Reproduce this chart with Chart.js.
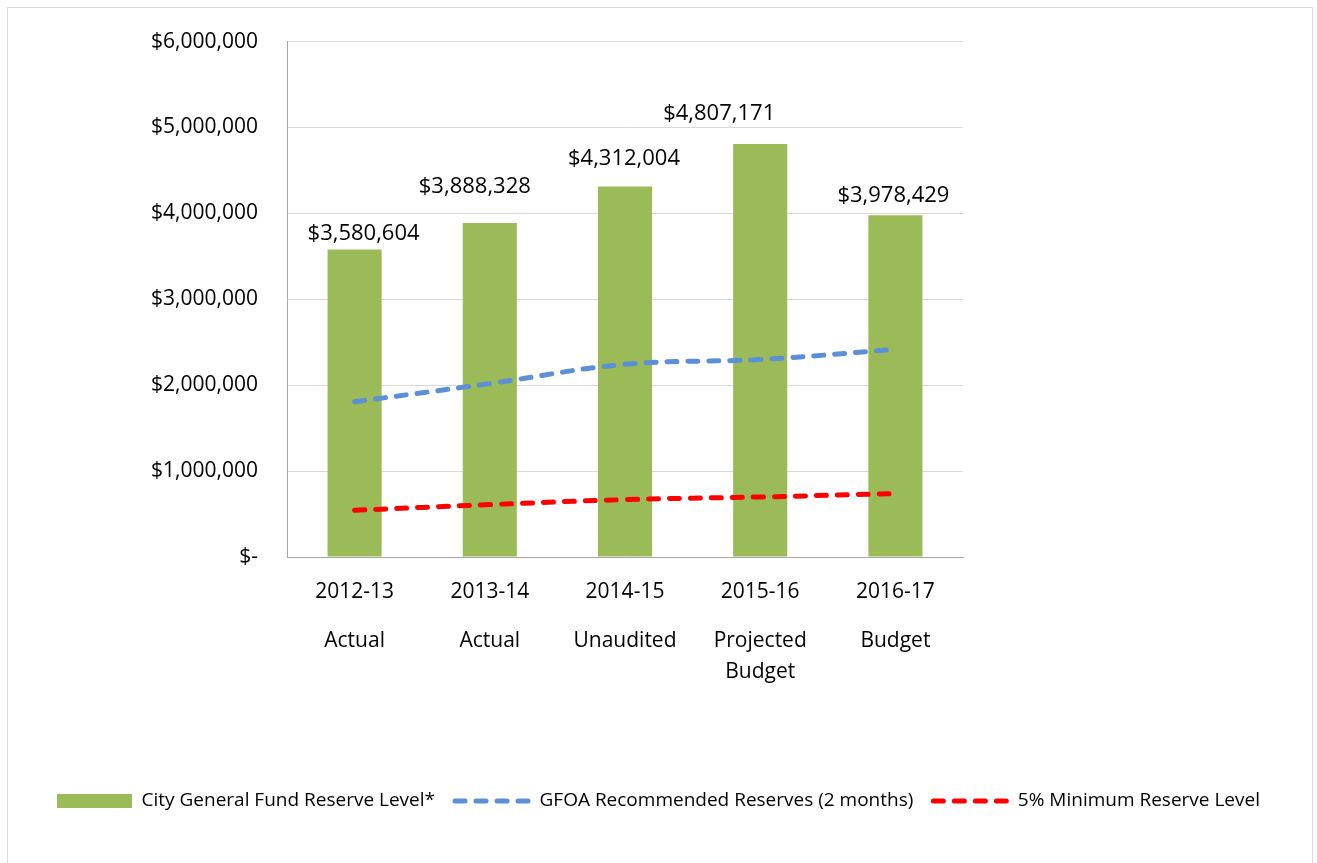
<!DOCTYPE html>
<html>
<head>
<meta charset="utf-8">
<script src="https://cdn.jsdelivr.net/npm/chart.js@4.4.0/dist/chart.umd.min.js"></script>
<style>
  html, body { margin: 0; padding: 0; background: #ffffff; }
  #wrap { width: 1317px; height: 863px; }
</style>
</head>
<body>
<div id="wrap"><canvas id="c" width="1317" height="863"></canvas></div>
<script>
// ---- data ----
const yearLabels = ["2012-13", "2013-14", "2014-15", "2015-16", "2016-17"];
const statusLabels = ["Actual", "Actual", "Unaudited", ["Projected", "Budget"], "Budget"];
const reserveLevel = [3580604, 3888328, 4312004, 4807171, 3978429];
const gfoaRecommended = [1807000, 2019000, 2243000, 2300000, 2417000];
const minimumReserve = [544000, 610000, 668000, 699000, 738000];
const seriesNames = ["City General Fund Reserve Level*", "GFOA Recommended Reserves (2 months)", "5% Minimum Reserve Level"];
const yTicks = [0, 1000000, 2000000, 3000000, 4000000, 5000000, 6000000];

// ---- styling (label placement offsets from the bar top, px) ----
const labelDx = [9, -15, -1, -41, -2];
const labelDy = [16, 36, 28, 30, 20];

const FONT = "'Open Sans', 'Noto Sans', sans-serif";
const fmt = v => v === 0 ? "$-" : "$" + v.toLocaleString("en-US");

const frame = {
  id: "frame",
  beforeDraw(chart) {
    const ctx = chart.ctx;
    ctx.save();
    ctx.fillStyle = "#ffffff";
    ctx.fillRect(0, 0, chart.width, chart.height);
    ctx.strokeStyle = "#d9d9d9";
    ctx.lineWidth = 1;
    ctx.strokeRect(7.5, 7.5, 1305, 880);
    ctx.restore();
  }
};

const barLabels = {
  id: "barLabels",
  afterDatasetsDraw(chart) {
    const meta = chart.getDatasetMeta(0);
    const ctx = chart.ctx;
    ctx.save();
    ctx.font = "22px " + FONT;
    ctx.fillStyle = "#000000";
    ctx.textAlign = "center";
    ctx.textBaseline = "middle";
    meta.data.forEach((el, i) => {
      ctx.fillText(fmt(reserveLevel[i]), el.x + labelDx[i], el.y - labelDy[i]);
    });
    ctx.restore();
  }
};

new Chart(document.getElementById("c"), {
  type: "bar",
  data: {
    labels: yearLabels,
    datasets: [
      {
        label: seriesNames[0],
        data: reserveLevel,
        backgroundColor: "#9bbb59",
        borderWidth: 0,
        categoryPercentage: 1.0,
        barPercentage: 0.4,
        order: 2,
        pointStyle: "rect",
        xAxisID: "x", yAxisID: "y"
      },
      {
        type: "line",
        label: seriesNames[1],
        data: gfoaRecommended,
        borderColor: "#5b8fd6",
        backgroundColor: "#5b8fd6",
        borderWidth: 5,
        borderDash: [10, 11],
        borderCapStyle: "round",
        tension: 0.4,
        pointRadius: 0,
        pointHoverRadius: 0,
        pointStyle: "line",
        fill: false,
        order: 1,
        xAxisID: "x", yAxisID: "y"
      },
      {
        type: "line",
        label: seriesNames[2],
        data: minimumReserve,
        borderColor: "#ff0000",
        backgroundColor: "#ff0000",
        borderWidth: 5,
        borderDash: [10, 11],
        borderCapStyle: "round",
        tension: 0.4,
        pointRadius: 0,
        pointHoverRadius: 0,
        pointStyle: "line",
        fill: false,
        order: 1,
        xAxisID: "x", yAxisID: "y"
      }
    ]
  },
  options: {
    responsive: false,
    animation: false,
    devicePixelRatio: 1,
    layout: { padding: { left: 8, right: 8, top: 39, bottom: 42.5 } },
    plugins: {
      tooltip: { enabled: false },
      legend: {
        position: "bottom",
        labels: {
          usePointStyle: true,
          pointStyleWidth: 75,
          boxWidth: 75,
          boxHeight: 14,
          padding: 20,
          color: "#000000",
          font: { family: FONT, size: 19 },
          sort: (a, b) => a.datasetIndex - b.datasetIndex,
          generateLabels(chart) {
            const items = Chart.defaults.plugins.legend.labels.generateLabels(chart);
            items.forEach(it => {
              const ds = chart.data.datasets[it.datasetIndex];
              if (ds.type === "line") {
                it.lineDash = ds.borderDash;
                it.lineCap = "round";
                it.lineWidth = ds.borderWidth;
                it.strokeStyle = ds.borderColor;
                it.fillStyle = ds.borderColor;
              } else {
                it.lineWidth = 0;
                it.fillStyle = ds.backgroundColor;
                it.strokeStyle = ds.backgroundColor;
              }
            });
            return items;
          }
        }
      }
    },
    scales: {
      x: {
        type: "category",
        position: "bottom",
        weight: 0,
        offset: true,
        grid: { display: false, drawTicks: false },
        border: { display: true, color: "#a6a6a6", width: 1 },
        ticks: {
          color: "#000000",
          font: { family: FONT, size: 21 },
          padding: 22,
          maxRotation: 0,
          autoSkip: false
        },
        afterFit(s) { s.height = 60; }
      },
      x2: {
        type: "category",
        position: "bottom",
        weight: 1,
        labels: statusLabels,
        offset: true,
        grid: { display: false, drawTicks: false },
        border: { display: false },
        ticks: {
          color: "#000000",
          font: { family: FONT, size: 21, lineHeight: 1.5 },
          padding: 8,
          maxRotation: 0,
          autoSkip: false
        },
        afterFit(s) { s.height = 154.5; }
      },
      y: {
        type: "linear",
        position: "left",
        min: 0,
        max: 6000000,
        afterBuildTicks(s) { s.ticks = yTicks.map(v => ({ value: v })); },
        grid: { color: "#d9d9d9", lineWidth: 1, drawTicks: false },
        border: { display: true, color: "#a6a6a6", width: 1 },
        ticks: {
          color: "#000000",
          font: { family: FONT, size: 21 },
          padding: 29,
          callback: v => fmt(v)
        },
        afterFit(s) { s.width = 279; }
      },
      yRight: {
        type: "linear",
        position: "right",
        display: true,
        grid: { display: false, drawTicks: false },
        border: { display: false },
        ticks: { display: false },
        afterFit(s) { s.width = 346; }
      }
    }
  },
  plugins: [frame, barLabels]
});
</script>
</body>
</html>
